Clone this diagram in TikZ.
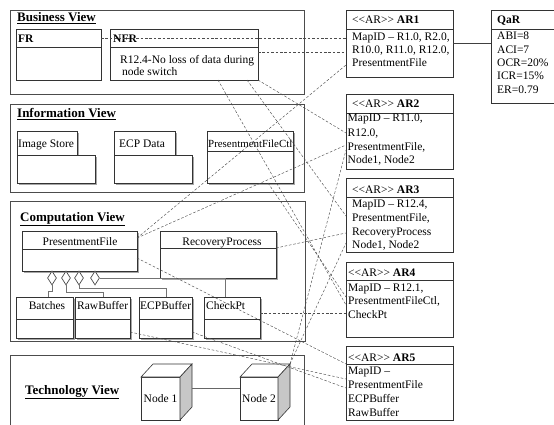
\documentclass[tikz,border=0pt]{standalone}
\usepackage{fontspec}
\setmainfont{Liberation Serif}
\usetikzlibrary{shadows,shapes.geometric}
\newcommand\stereo{\textless\kern0pt\textless\kern0pt AR\kern0pt\textgreater\kern0pt\textgreater}
\begin{document}
\begin{tikzpicture}[x=1pt,y=-1pt,
  viewframe/.style={draw=black!70, line width=0.8pt, anchor=north west, inner sep=0pt, outer sep=0pt},
  umlbox/.style={draw=black!80, line width=0.6pt, fill=white, anchor=north west, inner sep=0pt, outer sep=0pt},
  shbox/.style={umlbox, drop shadow={shadow xshift=1.6pt, shadow yshift=-1.6pt, fill=black!35, opacity=1}},
  txt/.style={font=\fontsize{11.5}{13.8}\selectfont, inner sep=0pt, anchor=base west},
  btxt/.style={txt, font=\fontsize{11.5}{13.8}\selectfont\bfseries},
  ttl/.style={font=\fontsize{13}{15}\selectfont\bfseries, inner sep=0pt, anchor=base west},
  conn/.style={draw=black!70, dash pattern=on 2.6pt off 1.8pt, line width=0.45pt},
  agg/.style={draw=black!55, line width=0.9pt},
  seprule/.style={draw=black!80, line width=0.6pt},
  dia/.style={diamond, draw=black!70, fill=white, line width=0.7pt, minimum width=9pt, minimum height=14pt, inner sep=0pt},
  cubenode/.style={umlbox, font=\fontsize{11.5}{13.8}\selectfont, align=center},
]
\useasboundingbox (0,0) rectangle (554,425);
\begin{scope}
\clip (0,0) rectangle (554,425);

% ---------- view frames ----------
\node[viewframe, minimum width=294pt, minimum height=84pt] (bv) at (10,10) {};
\node[viewframe, minimum width=294pt, minimum height=88pt] (iv) at (10,104) {};
\node[viewframe, minimum width=295pt, minimum height=140pt] (cv) at (10,201) {};
\node[viewframe, minimum width=294pt, minimum height=100pt] (tv) at (10,355) {};

\node[ttl] (bvt) at (17,22) {\underline{Business View}};
\node[ttl] (ivt) at (17,118) {\underline{Information View}};
\node[ttl] (cvt) at (20,221) {\underline{Computation View}};
\node[ttl] (tvt) at (25,394) {\underline{Technology View}};

% ---------- business ----------
\node[umlbox, minimum width=85pt, minimum height=51pt] (fr) at (16,29) {};
\draw[seprule] ([yshift=-18pt]fr.north west) -- ([yshift=-18pt]fr.north east);
\node[btxt] (frt) at (18,43) {FR};
\node[umlbox, minimum width=148pt, minimum height=51pt] (nfr) at (110,29) {};
\draw[seprule] ([yshift=-18pt]nfr.north west) -- ([yshift=-18pt]nfr.north east);
\node[btxt] (nfrt) at (113,43) {NFR};
\node[txt] (nfr1) at (120,64) {R12.4-No loss of data during};
\node[txt] (nfr2) at (122,76) {node switch};

% ---------- information ----------
\node[shbox, minimum width=60pt, minimum height=24pt] (ist) at (17,131) {};
\node[shbox, minimum width=78pt, minimum height=28pt] (isb) at (17,155) {};
\node[txt] (istx) at (18,147) {Image Store};
\node[shbox, minimum width=61pt, minimum height=24pt] (ect) at (114,131) {};
\node[shbox, minimum width=78pt, minimum height=28pt] (ecb) at (114,155) {};
\node[txt] (ectx) at (119,147) {ECP Data};
\node[shbox, minimum width=86pt, minimum height=52pt] (pfc) at (207,131) {};
\draw[seprule] ([yshift=-20pt]pfc.north west) -- ([yshift=-20pt]pfc.north east);
\node[txt, font=\fontsize{10.9}{13}\selectfont] (pfct) at (208,147) {PresentmentFileCtl};

% ---------- computation ----------
\node[shbox, minimum width=115pt, minimum height=40pt] (pf) at (22,231) {};
\draw[seprule] ([yshift=-18pt]pf.north west) -- ([yshift=-18pt]pf.north east);
\node[txt, anchor=base] (pft) at (80,245) {PresentmentFile};
\node[shbox, minimum width=116pt, minimum height=47pt] (rp) at (160,231) {};
\draw[seprule] ([yshift=-17pt]rp.north west) -- ([yshift=-17pt]rp.north east);
\node[txt, anchor=base] (rpt) at (222,245) {RecoveryProcess};

\node[shbox, minimum width=57pt, minimum height=41pt] (ba) at (16,297) {};
\draw[seprule] ([yshift=-22pt]ba.north west) -- ([yshift=-22pt]ba.north east);
\node[txt, anchor=base] (bat) at (47,309) {Batches};
\node[shbox, minimum width=55pt, minimum height=41pt] (rb) at (75,297) {};
\draw[seprule] ([yshift=-22pt]rb.north west) -- ([yshift=-22pt]rb.north east);
\node[txt] (rbt) at (77,309) {RawBuffer};
\node[shbox, minimum width=53pt, minimum height=41pt] (eb) at (139,297) {};
\draw[seprule] ([yshift=-22pt]eb.north west) -- ([yshift=-22pt]eb.north east);
\node[txt] (ebt) at (140,309) {ECPBuffer};
\node[shbox, minimum width=56pt, minimum height=41pt] (cp) at (204,297) {};
\draw[seprule] ([yshift=-22pt]cp.north west) -- ([yshift=-22pt]cp.north east);
\node[txt] (cpt) at (206,309) {CheckPt};

\node[dia] (d1) at (52,278) {};
\node[dia] (d2) at (66,278) {};
\node[dia] (d3) at (79,278) {};
\node[dia] (d4) at (95,278) {};
\draw[agg] (d1.south) -- ++(0,6) -| ([xshift=32pt]ba.north west);
\draw[agg] (d2.south) -- ++(0,7) -| ([xshift=28pt]rb.north west);
\draw[agg] (d3.south) -- ++(0,3) -| ([xshift=27pt]eb.north west);
\draw[agg] (d4.east) -| ([xshift=21pt]cp.north west);

% ---------- technology ----------
\node[cubenode, minimum width=39pt, minimum height=43pt] (n1) at (141,377) {Node 1};
\draw[draw=black!80, line width=0.6pt, fill=white] (n1.north west) -- ++(12,-13) -- ++(39,0) -- (n1.north east) -- cycle;
\draw[draw=black!80, line width=0.6pt, fill=black!22] (n1.north east) -- ++(12,-13) -- ++(0,43) -- (n1.south east) -- cycle;
\node[cubenode, minimum width=38pt, minimum height=43pt] (n2) at (240,377) {Node 2};
\draw[draw=black!80, line width=0.6pt, fill=white] (n2.north west) -- ++(12,-13) -- ++(38,0) -- (n2.north east) -- cycle;
\draw[draw=black!80, line width=0.6pt, fill=black!22] (n2.north east) -- ++(12,-13) -- ++(0,43) -- (n2.south east) -- cycle;
\coordinate (n2c) at ([xshift=12pt,yshift=13pt]n2.north east);
\draw[draw=black!60, line width=0.7pt] ([xshift=12pt,yshift=-11pt]n1.north east) -- ([yshift=-11pt]n2.north west);

% ---------- AR boxes ----------
\node[umlbox, minimum width=107pt, minimum height=67pt] (ar1) at (346,10) {};
\draw[seprule] ([yshift=-19pt]ar1.north west) -- ([yshift=-19pt]ar1.north east);
\node[txt] (ar1h) at (352,24) {\stereo{} \textbf{AR1}};
\node[txt] (ar1a) at (352,41) {MapID -- R1.0, R2.0,};
\node[txt] (ar1b) at (352,54) {R10.0, R11.0, R12.0,};
\node[txt] (ar1c) at (352,67) {PresentmentFile};

\node[umlbox, minimum width=70pt, minimum height=93pt] (qar) at (491,10) {};
\draw[seprule] ([yshift=-19pt]qar.north west) -- ([yshift=-19pt]qar.north east);
\node[btxt] (qart) at (497,24) {QaR};
\node[txt] (q1) at (497,40) {ABI=8};
\node[txt] (q2) at (497,53.3) {ACI=7};
\node[txt] (q3) at (497,66.6) {OCR=20\%};
\node[txt] (q4) at (497,79.9) {ICR=15\%};
\node[txt] (q5) at (497,93.2) {ER=0.79};
\draw[draw=black!75, line width=0.6pt] ([yshift=-33pt]ar1.north east) -- ([yshift=-33pt]qar.north west);

\node[umlbox, minimum width=107pt, minimum height=75pt] (ar2) at (346,94) {};
\draw[seprule] ([yshift=-19pt]ar2.north west) -- ([yshift=-19pt]ar2.north east);
\node[txt] (ar2h) at (352,108) {\stereo{} \textbf{AR2}};
\node[txt] (ar2a) at (347.5,122) {MapID -- R11.0,};
\node[txt] (ar2b) at (347.5,136) {R12.0,};
\node[txt] (ar2c) at (347.5,150) {PresentmentFile,};
\node[txt] (ar2d) at (347.5,164) {Node1, Node2};

\node[umlbox, minimum width=107pt, minimum height=74pt] (ar3) at (346,178) {};
\draw[seprule] ([yshift=-19pt]ar3.north west) -- ([yshift=-19pt]ar3.north east);
\node[txt] (ar3h) at (352,193) {\stereo{} \textbf{AR3}};
\node[txt] (ar3a) at (352,207) {MapID -- R12.4,};
\node[txt] (ar3b) at (352,221) {PresentmentFile,};
\node[txt] (ar3c) at (352,235) {RecoveryProcess};
\node[txt] (ar3d) at (352,248) {Node1, Node2};

\node[umlbox, minimum width=107pt, minimum height=75pt] (ar4) at (346,262) {};
\draw[seprule] ([yshift=-18pt]ar4.north west) -- ([yshift=-18pt]ar4.north east);
\node[txt] (ar4h) at (348,276) {\stereo{} \textbf{AR4}};
\node[txt] (ar4a) at (348,291) {MapID -- R12.1,};
\node[txt] (ar4b) at (348,304.5) {PresentmentFileCtl,};
\node[txt] (ar4c) at (348,318) {CheckPt};

\node[umlbox, minimum width=107pt, minimum height=74pt] (ar5) at (346,346) {};
\draw[seprule] ([yshift=-18pt]ar5.north west) -- ([yshift=-18pt]ar5.north east);
\node[txt] (ar5h) at (348,361) {\stereo{} \textbf{AR5}};
\node[txt] (ar5a) at (348,374) {MapID --};
\node[txt] (ar5b) at (348,388) {PresentmentFile};
\node[txt] (ar5c) at (348,402) {ECPBuffer};
\node[txt] (ar5d) at (348,416) {RawBuffer};

% ---------- dashed trace links ----------
\draw[conn] ([yshift=-9pt]fr.north east) -- ([yshift=-28pt]ar1.north west);
\draw[conn] ([yshift=-23pt]nfr.north east) -- ([yshift=-42pt]ar1.north west);
\draw[conn] ([yshift=-7pt]pf.north east) -- ([yshift=-55pt]ar1.north west);
\draw[conn] (nfr.south east) -- ([yshift=-39pt]ar2.north west);
\draw[conn] ([yshift=-7pt]pf.north east) -- ([yshift=-51pt]ar2.north west);
\draw[conn] (n2c) -- ([yshift=-56pt]ar2.north west);
\draw[conn] ([xshift=137pt]nfr.south west) -- ([yshift=-38pt]ar3.north west);
\draw[conn] ([yshift=-17pt]rp.north east) -- ([yshift=-55pt]ar3.north west);
\draw[conn] (n2c) -- ([yshift=-65pt]ar3.north west);
\draw[conn] ([xshift=108pt]nfr.south west) -- ([yshift=-43pt]ar4.north west);
\draw[conn] ([xshift=61pt]pfc.south west) -- ([yshift=-35pt]ar4.north west);
\draw[conn] ([yshift=-16pt]cp.north east) -- ([yshift=-51pt]ar4.north west);
\draw[conn] ([yshift=-27pt]pf.north east) -- ([yshift=-18pt]ar5.north west);
\draw[conn] ([yshift=6pt]rb.south east) -- ([yshift=-33pt]ar5.north west);
\draw[conn] ([yshift=6pt]eb.south east) -- ([yshift=-42pt]ar5.north west);
\end{scope}
\end{tikzpicture}
\end{document}
